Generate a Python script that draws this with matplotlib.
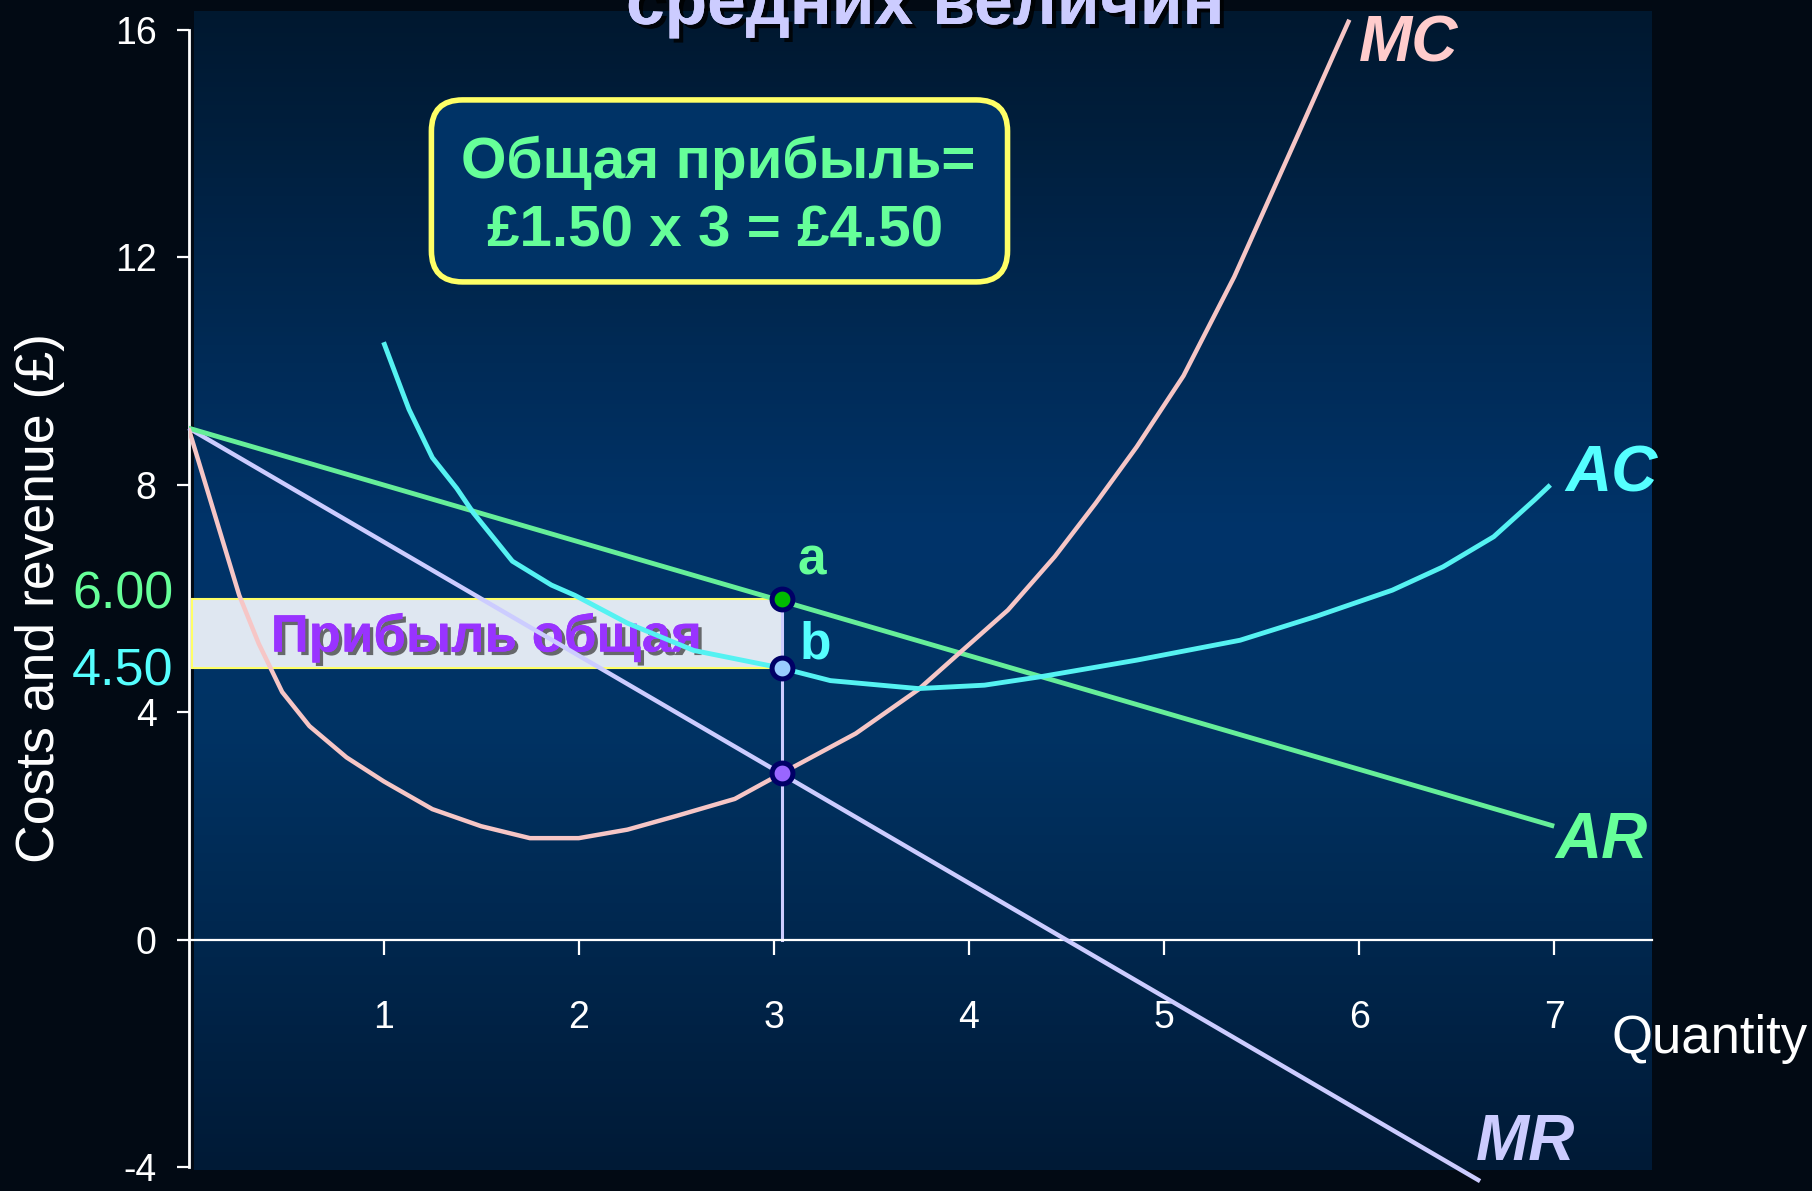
import numpy as np
import matplotlib
matplotlib.use('Agg')
import matplotlib.pyplot as plt
from matplotlib.patches import Rectangle, FancyBboxPatch
import matplotlib.patheffects as pe
from matplotlib.colors import LinearSegmentedColormap

plt.rcParams['font.family'] = ['Liberation Sans', 'DejaVu Sans']
plt.rcParams['axes.unicode_minus'] = False

# ---------------- data ----------------
q_ar = [0, 7]
ar = [9, 2]

q_mr = [0, 6.62]
mr = [9, -4.24]

q_mc = [0, 0.26, 0.36, 0.48, 0.62, 0.81, 1.0, 1.25, 1.5, 1.75, 2.0, 2.25, 2.5,
        2.8, 3.04, 3.42, 3.74, 3.95, 4.2, 4.44, 4.65, 4.86, 5.1, 5.36, 5.53,
        5.7, 5.87, 5.95]
mc = [9.0, 6.06, 5.21, 4.36, 3.76, 3.21, 2.79, 2.30, 2.0, 1.79, 1.79, 1.94, 2.18,
      2.48, 2.93, 3.63, 4.40, 5.04, 5.8, 6.74, 7.68, 8.67, 9.92, 11.66, 12.96,
      14.26, 15.57, 16.18]

q_ac = [1.0, 1.09, 1.13, 1.25, 1.375, 1.46, 1.66, 1.86, 1.98, 2.25, 2.59, 3.04,
        3.29, 3.74, 4.08, 4.37, 4.86, 5.39, 5.78, 6.17, 6.43, 6.69, 6.90, 6.98]
ac = [10.51, 9.69, 9.33, 8.48, 7.94, 7.51, 6.66, 6.24, 6.06, 5.57, 5.09, 4.78,
      4.56, 4.42, 4.48, 4.63, 4.92, 5.27, 5.69, 6.15, 6.56, 7.09, 7.74, 8.0]

q_star = 3.04
price = 6.0
avg_cost = 4.78
mr_star = 2.93

y_ticks = [-4, 0, 4, 8, 12, 16]
y_tick_labels = ['-4', '0', '4', '8', '12', '16']
x_ticks = [1, 2, 3, 4, 5, 6, 7]
x_tick_labels = ['1', '2', '3', '4', '5', '6', '7']

# ---------------- figure ----------------
W, H = 1812, 1191
fig = plt.figure(figsize=(W / 100, H / 100), dpi=100)
fig.patch.set_facecolor('#020a14')

ax = fig.add_axes([188.5 / W, (H - 1170.3) / H, 1463.25 / W, 1159.1 / H])
ax.set_facecolor('none')
XMIN, XMAX, YMIN, YMAX = 0, 7.5, -4.05, 16.33

# panel gradient
cmap = LinearSegmentedColormap.from_list('panel', [
    (0.0, '#00182f'), (0.45, '#00346a'), (0.62, '#003364'), (1.0, '#001a36')])
grad = np.linspace(0, 1, 256).reshape(-1, 1)
ax.imshow(grad, extent=[0.028, XMAX, YMIN, YMAX], aspect='auto', cmap=cmap,
          origin='upper', zorder=0)
ax.set_xlim(XMIN, XMAX)
ax.set_ylim(YMIN, YMAX)

# spines / ticks
for s in ['top', 'right']:
    ax.spines[s].set_visible(False)
ax.spines['left'].set_bounds(-4, 16)
ax.spines['left'].set_color('white')
ax.spines['left'].set_linewidth(2)
ax.spines['bottom'].set_position(('data', 0))
ax.spines['bottom'].set_bounds(0, 7.5)
ax.spines['bottom'].set_color('white')
ax.spines['bottom'].set_linewidth(1.6)
for sp in ax.spines.values():
    sp.set_zorder(3)

ax.set_yticks(y_ticks)
ax.set_yticklabels(y_tick_labels)
ax.set_xticks(x_ticks)
ax.set_xticklabels(x_tick_labels)
ax.tick_params(axis='y', direction='out', length=9, width=1.6, colors='white',
               labelsize=27, pad=14)
ax.tick_params(axis='x', direction='out', length=11, width=1.6, colors='white',
               labelsize=27, pad=32)

# profit rectangle
ax.add_patch(Rectangle((0.02, avg_cost), q_star - 0.02, price - avg_cost,
                       facecolor='#dfe7f1', edgecolor='#ffff66', lw=1.5, zorder=1.5))
ax.text(1.523, 5.07, 'Прибыль общая', ha='center', va='baseline', fontsize=38,
        fontweight='bold', color='#9933ff', zorder=1.8,
        path_effects=[pe.withSimplePatchShadow(offset=(2.5, -2.5), shadow_rgbFace='#333333', alpha=0.7),
                      pe.Normal()])

# vertical line at q*
ax.plot([q_star, q_star], [0, price], color='#ccccff', lw=2.2, zorder=3)

# curves
lw = 3.2
ax.plot(q_mr, mr, color='#ccccff', lw=lw, zorder=4, clip_on=False,
        solid_capstyle='butt')
ax.plot(q_ar, ar, color='#66ee99', lw=lw + 0.3, zorder=4, solid_capstyle='butt')
ax.plot(q_mc, mc, color='#f6c6c6', lw=lw, zorder=4, solid_capstyle='butt',
        solid_joinstyle='round')
ax.plot(q_ac, ac, color='#55f2f2', lw=lw + 0.3, zorder=4, solid_capstyle='butt',
        solid_joinstyle='round')

# points
pt_kw = dict(marker='o', ms=15, mec='#000066', mew=3.6, zorder=6, ls='none')
ax.plot([q_star], [price], mfc='#00bb00', **pt_kw)
ax.plot([q_star], [avg_cost], mfc='#99ccff', **pt_kw)
ax.plot([q_star], [mr_star], mfc='#9966ff', **pt_kw)

ax.text(3.12, 6.42, 'a', ha='left', va='baseline', fontsize=37, fontweight='bold',
        color='#66ff99', zorder=6)
ax.text(3.13, 4.95, 'b', ha='left', va='baseline', fontsize=37, fontweight='bold',
        color='#55ffff', zorder=6)

# curve labels
lab_kw = dict(ha='left', va='baseline', fontsize=46, fontweight='bold',
              fontstyle='italic', zorder=6, clip_on=False)
ax.text(6.0, 15.44, 'MC', color='#ffcccc', **lab_kw)
ax.text(7.055, 7.88, 'AC', color='#55ffff', **lab_kw)
ax.text(7.004, 1.44, 'AR', color='#66ff99', **lab_kw)
ax.text(6.60, -3.87, 'MR', color='#ccccff', **lab_kw)

# price / cost labels on the y axis
ax.text(-0.079, 5.83, '6.00', ha='right', va='baseline', fontsize=37.5,
        color='#66ff99', clip_on=False)
ax.text(-0.079, 4.48, '4.50', ha='right', va='baseline', fontsize=37.5,
        color='#55ffff', clip_on=False)

# info box
ax.add_patch(FancyBboxPatch((1.245, 11.57), 2.953, 3.2,
                            boxstyle='round,pad=0,rounding_size=0.16',
                            mutation_aspect=195.1 / 56.875,
                            facecolor='#003366', edgecolor='#ffff66', lw=4, zorder=5))
ax.text(2.717, 13.39, 'Общая прибыль=', ha='center', va='baseline', fontsize=42,
        fontweight='bold', color='#66ff99', zorder=6)
ax.text(2.70, 12.19, '£1.50 x 3 = £4.50', ha='center', va='baseline', fontsize=42,
        fontweight='bold', color='#66ff99', zorder=6)

# axis titles
ax.text(7.295, -1.99, 'Quantity', ha='left', va='baseline', fontsize=38,
        color='white', clip_on=False)
fig.text(40 / W, 0.4979, 'Costs and revenue (£)', rotation=90, ha='center',
         va='center', fontsize=38.5, color='white')

# title (cut off at the top edge, as in the original slide)
fig.text(926 / W, 1 - 24 / H, 'средних величин', ha='center', va='baseline',
         fontsize=50, fontweight='bold', color='#ccccff',
         path_effects=[pe.withSimplePatchShadow(offset=(3, -3), shadow_rgbFace='black', alpha=0.8),
                       pe.Normal()])

fig.savefig('out.png', dpi=100, facecolor=fig.get_facecolor())
